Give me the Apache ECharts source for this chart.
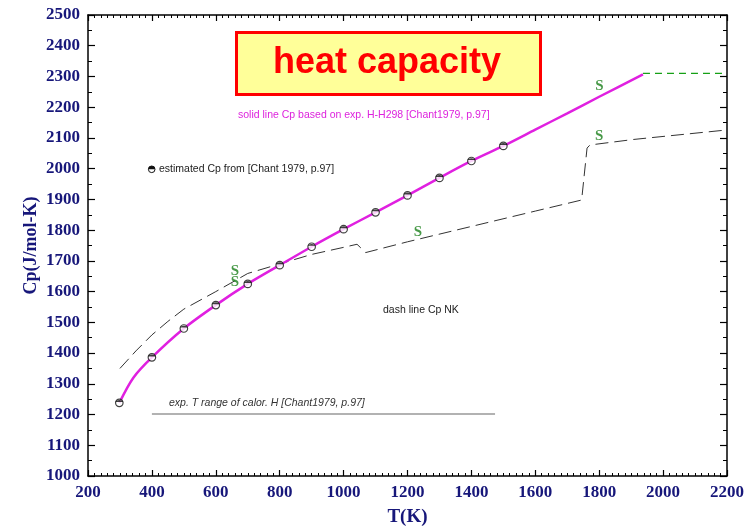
<!DOCTYPE html>
<html>
<head>
<meta charset="utf-8">
<script src="https://cdn.jsdelivr.net/npm/echarts@6/dist/echarts.min.js"></script>
<style>html,body{margin:0;padding:0;background:#fff}#c{width:744px;height:527px}</style>
</head>
<body>
<div id="c"></div>
<script>
// ---- data ----
// estimated Cp points [Chant 1979, p.97]
var estT  = [298, 400, 500, 600, 700, 800, 900, 1000, 1100, 1200, 1300, 1400, 1500];
var estCp = [1238, 1386, 1480, 1556, 1625, 1686, 1746, 1803, 1858, 1913, 1970, 2025, 2074];
// solid line Cp based on exp. H-H298
var solidT  = [298, 342, 400, 500, 600, 700, 800, 900, 1000, 1100, 1200, 1300, 1400, 1500, 1600, 1700, 1800, 1937];
var solidCp = [1238, 1320, 1386, 1480, 1556, 1625, 1686, 1746, 1803, 1858, 1913, 1970, 2025, 2074, 2127, 2180, 2234, 2307];
// green dashed continuation
var greenT  = [1937, 2200];
var greenCp = [2310, 2310];
// dash line Cp NK
var nkT  = [300, 350, 400, 450, 500, 600, 700, 800, 900, 1000, 1042, 1069, 1200, 1400, 1600, 1745, 1762, 1771, 1907, 2200];
var nkCp = [1350, 1407, 1459, 1503, 1543, 1600, 1659, 1690, 1721, 1744, 1754, 1727, 1762, 1812, 1862, 1898, 2067, 2077, 2095, 2126];
// exp. T range of calorimetric H
var rangeT  = [400, 1474];
var rangeCp = [1202, 1202];
// 'S' phase markers
var sT  = [1801, 1800, 660, 660, 1233];
var sCp = [2268, 2106, 1665, 1630, 1792];
// axis ranges
var xMin = 200, xMax = 2200, xStep = 200;
var yMin = 1000, yMax = 2500, yStep = 100;

function pairs(a, b) { return a.map(function (v, i) { return [v, b[i]]; }); }

var navy = '#17177a';
var tickFont = { fontFamily: 'Liberation Serif', fontWeight: 'bold', fontSize: 17, color: navy };
function plain(v) { return String(v); }

function xAx(pos, show) {
  return {
    type: 'value', position: pos, min: xMin, max: xMax, interval: xStep,
    name: show ? 'T(K)' : '', nameLocation: 'middle', nameGap: 32, nameMoveOverlap: false,
    nameTextStyle: { fontFamily: 'Liberation Serif', fontWeight: 'bold', fontSize: 19, color: navy },
    axisLine: { show: true, onZero: false, lineStyle: { color: '#000', width: 1.5 } },
    axisTick: { show: true, inside: true, length: 6, lineStyle: { color: '#000', width: 1.2 } },
    minorTick: { show: true, splitNumber: 10, length: 3, lineStyle: { color: '#000', width: 1 } },
    axisLabel: Object.assign({ show: show, margin: 8, formatter: plain }, tickFont),
    splitLine: { show: false }
  };
}
function yAx(pos, show) {
  return {
    type: 'value', position: pos, min: yMin, max: yMax, interval: yStep,
    name: show ? 'Cp(J/mol-K)' : '', nameLocation: 'middle', nameGap: 48, nameRotate: 90, nameMoveOverlap: false,
    nameTextStyle: { fontFamily: 'Liberation Serif', fontWeight: 'bold', fontSize: 18, color: navy },
    axisLine: { show: true, onZero: false, lineStyle: { color: '#000', width: 1.5 } },
    axisTick: { show: true, inside: true, length: 7, lineStyle: { color: '#000', width: 1.2 } },
    minorTick: { show: true, splitNumber: 2, length: 4, lineStyle: { color: '#000', width: 1 } },
    axisLabel: Object.assign({ show: show, margin: 8, formatter: plain }, tickFont),
    splitLine: { show: false }
  };
}

var chart = echarts.init(document.getElementById('c'), null, { renderer: 'canvas' });
chart.setOption({
  animation: false,
  backgroundColor: '#fff',
  grid: { left: 88, right: 17, top: 15, bottom: 51, containLabel: false, outerBoundsMode: 'none' },
  xAxis: [xAx('bottom', true), xAx('top', false)],
  yAxis: [yAx('left', true), yAx('right', false)],
  series: [
    { type: 'line', data: pairs(rangeT, rangeCp), symbol: 'none',
      lineStyle: { color: '#999', width: 1.5 }, z: 2 },
    { type: 'line', data: pairs(nkT, nkCp), symbol: 'none',
      lineStyle: { color: '#333', width: 1, type: [13, 6] }, z: 3 },
    { type: 'line', data: pairs(greenT, greenCp), symbol: 'none',
      lineStyle: { color: '#16a016', width: 1.2, type: [7, 5] }, z: 3 },
    { type: 'line', data: pairs(solidT, solidCp), symbol: 'none', smooth: 0.3,
      lineStyle: { color: '#e020e0', width: 2.5 }, z: 4 },
    { type: 'scatter', data: pairs(estT, estCp), symbol: 'circle', symbolSize: 7.5,
      itemStyle: { color: '#fff', borderColor: '#111', borderWidth: 1.2 }, z: 5 },
    { type: 'scatter', data: pairs(estT, estCp), symbol: 'path://M0,5 A5,5 0 0 1 10,5 Z',
      symbolSize: [7.5, 3.75], symbolOffset: [0, -1.9], symbolKeepAspect: true,
      itemStyle: { color: '#111' }, z: 6 },
    { type: 'scatter', data: pairs(sT, sCp), symbol: 'circle', symbolSize: 2,
      itemStyle: { color: 'rgba(0,0,0,0)' },
      label: { show: true, position: 'inside', formatter: 'S',
        fontFamily: 'Liberation Serif', fontWeight: 'bold', fontSize: 15, color: '#1a7f1a' }, z: 7 }
  ],
  graphic: [
    { type: 'rect', left: 235, top: 31, shape: { width: 304, height: 62 },
      style: { fill: '#ffff99', stroke: '#ff0000', lineWidth: 3 }, z: 10 },
    { type: 'text', x: 387, y: 63, style: { text: 'heat capacity', fill: '#ff0000',
      font: 'bold 36px "Liberation Sans", Arial, sans-serif', align: 'center', verticalAlign: 'middle' }, z: 11 },
    { type: 'text', x: 238, y: 115, style: { text: 'solid line Cp based on exp. H-H298 [Chant1979, p.97]',
      fill: '#dd22dd', font: '10.5px "Liberation Sans", Arial, sans-serif', verticalAlign: 'middle' }, z: 11 },
    { type: 'circle', shape: { cx: 151.7, cy: 169.3, r: 3.3 }, style: { fill: '#fff', stroke: '#111', lineWidth: 1 }, z: 11 },
    { type: 'sector', shape: { cx: 151.7, cy: 169.3, r: 3.3, r0: 0, startAngle: Math.PI, endAngle: 2 * Math.PI },
      style: { fill: '#111' }, z: 12 },
    { type: 'text', x: 159, y: 169.5, style: { text: 'estimated Cp from [Chant 1979, p.97]',
      fill: '#222', font: '10.5px "Liberation Sans", Arial, sans-serif', verticalAlign: 'middle' }, z: 11 },
    { type: 'text', x: 383, y: 310, style: { text: 'dash line Cp NK',
      fill: '#222', font: '10.5px "Liberation Sans", Arial, sans-serif', verticalAlign: 'middle' }, z: 11 },
    { type: 'text', x: 169, y: 403, style: { text: 'exp. T range of calor. H [Chant1979, p.97]',
      fill: '#333', font: 'italic 10.5px "Liberation Sans", Arial, sans-serif', verticalAlign: 'middle' }, z: 11 }
  ]
});
</script>
</body>
</html>
